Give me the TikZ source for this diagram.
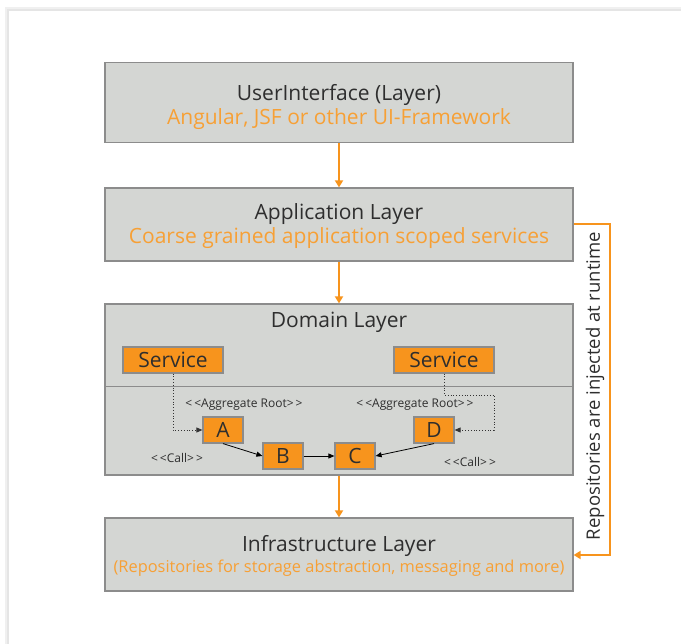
\documentclass[tikz,border=0pt]{standalone}
\usepackage{fontspec}
\setmainfont[Ligatures=NoCommon]{Open Sans}
\usetikzlibrary{arrows.meta,positioning}
\definecolor{boxfill}{HTML}{D4D6D3}
\definecolor{boxdraw}{HTML}{8C8C8C}
\definecolor{orng}{HTML}{F7941D}
\definecolor{otxt}{HTML}{F7A035}
\definecolor{dtxt}{HTML}{2E2E2E}
\newcommand{\lt}{\textless}
\newcommand{\gtr}{\textgreater}
\tikzset{
  layer/.style={draw=boxdraw, line width=1.2pt, fill=boxfill, inner sep=0pt},
  obox/.style={draw=boxdraw, line width=1.2pt, fill=orng, inner sep=0pt, text=dtxt, font=\fontsize{21}{22}\selectfont},
  ttl/.style={text=dtxt, font=\fontsize{21}{24}\selectfont, inner sep=0pt},
  sub/.style={text=otxt, font=\fontsize{21}{24}\selectfont, inner sep=0pt},
  small/.style={text=dtxt, font=\fontsize{12}{14}\selectfont, inner sep=0pt},
  oarrow/.style={draw=orng, line width=2pt, -{Triangle[length=7pt,width=8pt]}},
  karrow/.style={draw=black, line width=0.8pt, -{Triangle[length=6pt,width=5pt]}},
  darrow/.style={draw=black!80, line width=0.8pt, dotted, -{Triangle[length=6pt,width=5pt]}},
}
\begin{document}
\begin{tikzpicture}[x=1pt,y=-1pt]
\useasboundingbox (0,0) rectangle (681,644);
% card shadow
\draw[black!6, line width=4pt] (7,646) -- (7,9) -- (683,9);
\draw[black!10, line width=1.2pt] (8,646) -- (8,10) -- (683,10);
% layers
\node[layer, minimum width=468pt, minimum height=80pt] (ui) at (339,102.5) {};
\node[ttl] (uit) at (339,95) {UserInterface (Layer)};
\node[sub] (uis) at (339,119) {Angular, JSF or other UI-Framework};

\node[layer, minimum width=468pt, minimum height=73pt] (app) at (339,224.5) {};
\node[ttl] (appt) at (339,214) {Application Layer};
\node[sub] (apps) at (339,238) {Coarse grained application scoped services};

\node[layer, minimum width=468pt, minimum height=171pt] (dom) at (339,389.5) {};
\node[ttl] (domt) at (339,322) {Domain Layer};
\coordinate (divl) at (105,387);
\coordinate (divr) at (573,387);
\draw[boxdraw, line width=1pt] (divl) -- (divr);

\node[layer, minimum width=468pt, minimum height=73pt] (inf) at (339,554.5) {};
\node[ttl] (inft) at (339,546) {Infrastructure Layer};
\node[sub, font=\fontsize{16.4}{18}\selectfont] (infs) at (339,568) {(Repositories for storage abstraction, messaging and more)};

% services and aggregates
\node[obox, minimum width=100pt, minimum height=26pt] (s1) at (173,360) {Service};
\node[obox, minimum width=100pt, minimum height=26pt] (s2) at (444,360) {Service};
\node[obox, minimum width=40pt, minimum height=26pt] (A) at (223,430) {A};
\node[obox, minimum width=40pt, minimum height=26pt] (B) at (283,456) {B};
\node[obox, minimum width=40pt, minimum height=26pt] (C) at (355,456) {C};
\node[obox, minimum width=40pt, minimum height=26pt] (D) at (434,430) {D};

\node[small] (ar1) at (244,405) {\lt\,\lt Aggregate Root\gtr\,\gtr};
\node[small] (ar2) at (415,405) {\lt\,\lt Aggregate Root\gtr\,\gtr};
\node[small] (c1) at (177,458) {\lt\,\lt Call\gtr\,\gtr};
\node[small] (c2) at (470,462) {\lt\,\lt Call\gtr\,\gtr};

% dotted
\draw[darrow] (s1.south) |- (A.west);
\coordinate (k1) at (444,395);
\coordinate (k2) at (494,395);
\coordinate (k3) at (494,430);
\draw[darrow] (s2.south) -- (k1) -- (k2) -- (k3) -- (D.east);
% solid
\draw[karrow] (A.south) -- (B.west);
\draw[karrow] (B.east) -- (C.west);
\draw[karrow] (D.south) -- (C.east);

% orange flow
\draw[oarrow] (ui.south) -- (app.north);
\draw[oarrow] (app.south) -- (dom.north);
\draw[oarrow] (dom.south) -- (inf.north);

\coordinate (r1) at (610,224);
\coordinate (r2) at (610,555);
\draw[oarrow, line width=2.2pt] (app.east |- r1) -- (r1) -- (r2) -- (inf.east |- r2);
\node[ttl, rotate=90, font=\fontsize{18.5}{20}\selectfont] (rep) at (595,386) {Repositories are injected at runtime};
\end{tikzpicture}
\end{document}
